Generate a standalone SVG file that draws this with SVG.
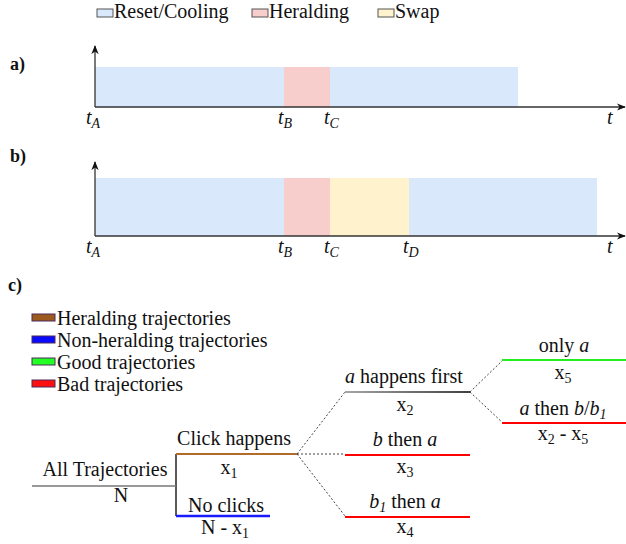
<svg xmlns="http://www.w3.org/2000/svg" width="626" height="544" viewBox="0 0 626 544">
<defs>
<style>
.t{font-size:20px;}
.lbl{font-size:18px;font-weight:bold;}
.m{font-size:20px;font-style:italic;}
.ms{font-size:14px;font-style:italic;}
.sub{font-size:14px;}
.axis{stroke:#333;stroke-width:1.3;fill:none;}
.dot{stroke:#444;stroke-width:1;stroke-dasharray:2,2;fill:none;}
.rc{fill:#dae8fc;}
.hr{fill:#f8cecc;}
.sw{fill:#fff2cc;}
</style>
<marker id="ah" viewBox="0 0 10 10" refX="9" refY="5" markerWidth="7" markerHeight="7" orient="auto">
<path d="M0,1 L10,5 L0,9 L3,5 Z" fill="#111"/>
</marker>
<linearGradient id="gk" gradientUnits="userSpaceOnUse" x1="345" y1="0" x2="470" y2="0"><stop offset="0" stop-color="#888"/><stop offset="1" stop-color="#000"/></linearGradient>
</defs>
<g font-family="'Liberation Serif', 'Times New Roman', Tinos, 'DejaVu Serif', serif" fill="#111">
<g id="legend-top">
<rect x="97" y="9" width="16" height="8" fill="#dae8fc" stroke="#555" stroke-width="1"/>
<text class="t" x="114" y="18">Reset/Cooling</text>
<rect x="252" y="9" width="16" height="8" fill="#f8cecc" stroke="#555" stroke-width="1"/>
<text class="t" x="269" y="18">Heralding</text>
<rect x="378" y="9" width="16" height="8" fill="#fff2cc" stroke="#555" stroke-width="1"/>
<text class="t" x="395" y="18">Swap</text>
</g>

<g id="panel-a">
<text class="lbl" x="10" y="70">a)</text>
<rect class="rc" x="95" y="67" width="189" height="40"/>
<rect class="hr" x="284" y="67" width="46" height="40"/>
<rect class="rc" x="330" y="67" width="188" height="40"/>
<line class="axis" x1="95" y1="107" x2="95" y2="46" marker-end="url(#ah)"/>
<line class="axis" x1="95" y1="107" x2="625" y2="107" marker-end="url(#ah)"/>
<text class="m" x="86" y="124">t<tspan class="ms" dy="4">A</tspan></text>
<text class="m" x="278" y="124">t<tspan class="ms" dy="4">B</tspan></text>
<text class="m" x="324" y="124">t<tspan class="ms" dy="4">C</tspan></text>
<text class="m" x="607" y="124">t</text>
</g>

<g id="panel-b">
<text class="lbl" x="10" y="162">b)</text>
<rect class="rc" x="95" y="178" width="189" height="58"/>
<rect class="hr" x="284" y="178" width="46" height="58"/>
<rect class="sw" x="330" y="178" width="79" height="58"/>
<rect class="rc" x="409" y="178" width="188" height="58"/>
<line class="axis" x1="95" y1="236" x2="95" y2="162" marker-end="url(#ah)"/>
<line class="axis" x1="95" y1="236" x2="625" y2="236" marker-end="url(#ah)"/>
<text class="m" x="86" y="253">t<tspan class="ms" dy="4">A</tspan></text>
<text class="m" x="278" y="253">t<tspan class="ms" dy="4">B</tspan></text>
<text class="m" x="324" y="253">t<tspan class="ms" dy="4">C</tspan></text>
<text class="m" x="403" y="253">t<tspan class="ms" dy="4">D</tspan></text>
<text class="m" x="607" y="253">t</text>
</g>

<g id="legend-c">
<text class="lbl" x="8" y="291">c)</text>
<rect x="32" y="314" width="23" height="7" fill="#9c5a1e" stroke="#4a2a5a" stroke-width="1"/>
<text class="t" x="57" y="325">Heralding trajectories</text>
<rect x="32" y="336" width="23" height="7" fill="#0a0aff" stroke="#4a2a5a" stroke-width="1"/>
<text class="t" x="57" y="347">Non-heralding trajectories</text>
<rect x="32" y="358" width="23" height="7" fill="#22ff22" stroke="#4a2a5a" stroke-width="1"/>
<text class="t" x="57" y="369">Good trajectories</text>
<rect x="32" y="380" width="23" height="7" fill="#ff1010" stroke="#4a2a5a" stroke-width="1"/>
<text class="t" x="57" y="391">Bad trajectories</text>
</g>

<g id="connectors">
<line x1="176" y1="454" x2="176" y2="516" stroke="#000" stroke-width="1.3"/>
<path class="dot" d="M297,454 L345,392 M297,454 L345,454 M297,454 L345,516"/>
<path class="dot" d="M470,392 L503,360 M470,392 L503,423"/>
</g>

<g id="node-all">
<line x1="32" y1="486" x2="176" y2="486" stroke="#777" stroke-width="1.5"/>
<text class="t" x="105" y="476" text-anchor="middle">All Trajectories</text>
<text class="t" x="121" y="502" text-anchor="middle">N</text>
</g>

<g id="node-click">
<line x1="176" y1="454" x2="297" y2="454" stroke="#b46a28" stroke-width="2"/>
<text class="t" x="234" y="445" text-anchor="middle">Click happens</text>
<text class="t" x="229" y="474" text-anchor="middle">x<tspan class="sub" dy="4">1</tspan></text>
</g>

<g id="node-noclick">
<line x1="176" y1="516" x2="270" y2="516" stroke="#1a1aff" stroke-width="2.5"/>
<text class="t" x="226" y="512" text-anchor="middle">No clicks</text>
<text class="t" x="225" y="534" text-anchor="middle">N - x<tspan class="sub" dy="4">1</tspan></text>
</g>

<g id="node-afirst">
<line x1="345" y1="392" x2="470" y2="392" stroke="url(#gk)" stroke-width="1.5"/>
<text class="t" x="404" y="383" text-anchor="middle"><tspan font-style="italic">a</tspan> happens first</text>
<text class="t" x="405" y="411" text-anchor="middle">x<tspan class="sub" dy="4">2</tspan></text>
</g>

<g id="node-bthena">
<line x1="345" y1="455" x2="470" y2="455" stroke="#f00" stroke-width="1.8"/>
<text class="t" x="405" y="446" text-anchor="middle"><tspan font-style="italic">b</tspan> then <tspan font-style="italic">a</tspan></text>
<text class="t" x="405" y="473" text-anchor="middle">x<tspan class="sub" dy="4">3</tspan></text>
</g>

<g id="node-b1thena">
<line x1="345" y1="517" x2="470" y2="517" stroke="#f00" stroke-width="1.8"/>
<text class="t" x="405" y="508" text-anchor="middle"><tspan font-style="italic">b</tspan><tspan class="ms" dy="4">1</tspan><tspan dy="-4"> then </tspan><tspan font-style="italic">a</tspan></text>
<text class="t" x="405" y="533" text-anchor="middle">x<tspan class="sub" dy="4">4</tspan></text>
</g>

<g id="node-onlya">
<line x1="502" y1="360" x2="626" y2="360" stroke="#22ee22" stroke-width="1.8"/>
<text class="t" x="564" y="352" text-anchor="middle">only <tspan font-style="italic">a</tspan></text>
<text class="t" x="563" y="379" text-anchor="middle">x<tspan class="sub" dy="4">5</tspan></text>
</g>

<g id="node-athenb">
<line x1="502" y1="423" x2="626" y2="423" stroke="#f00" stroke-width="1.8"/>
<text class="t" x="563" y="415" text-anchor="middle"><tspan font-style="italic">a</tspan> then <tspan font-style="italic">b</tspan>/<tspan font-style="italic">b</tspan><tspan class="ms" dy="4">1</tspan></text>
<text class="t" x="563" y="440" text-anchor="middle">x<tspan class="sub" dy="4">2</tspan><tspan dy="-4"> - x</tspan><tspan class="sub" dy="4">5</tspan></text>
</g>
</g>
</svg>
